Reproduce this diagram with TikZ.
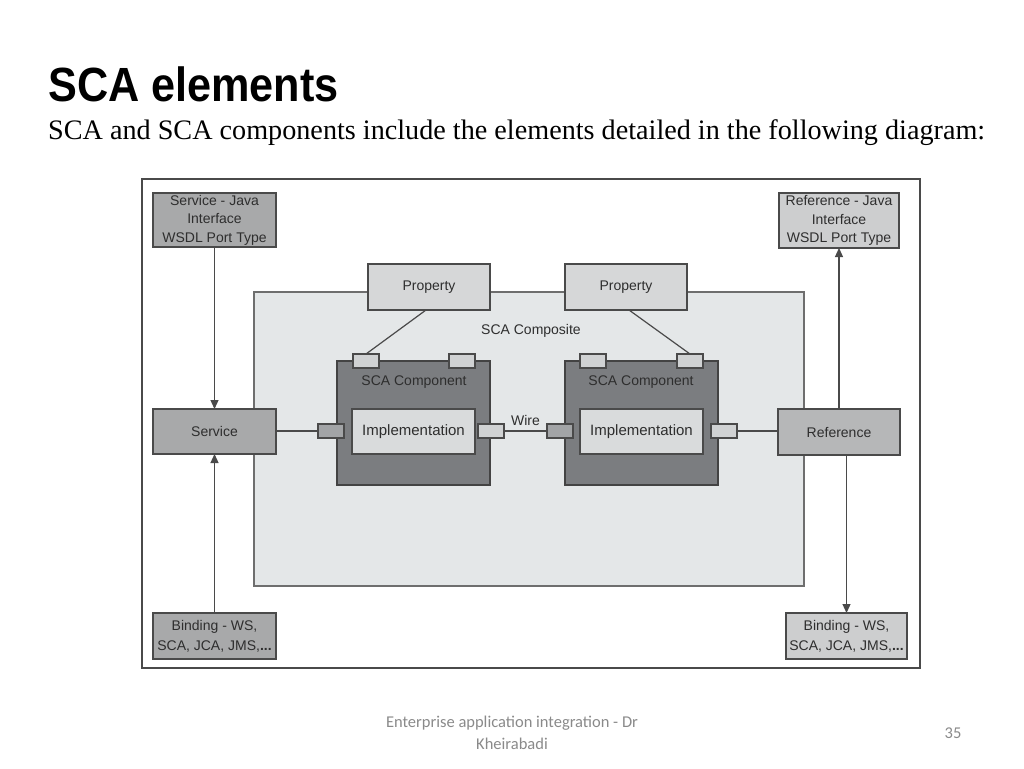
\documentclass[tikz,border=0pt]{standalone}
\usepackage{fontspec}
\setmainfont{Liberation Sans}
\newfontfamily\serifx{Liberation Serif}
\newfontfamily\footf{Carlito}
\usetikzlibrary{arrows.meta,calc}
\definecolor{txt}{HTML}{2E2E2E}
\definecolor{frame}{HTML}{4A4A4A}
\definecolor{compfill}{HTML}{E4E7E8}
\definecolor{compdark}{HTML}{7B7D80}
\definecolor{implfill}{HTML}{D9DBDC}
\definecolor{propfill}{HTML}{D6D7D8}
\definecolor{svcfill}{HTML}{A8A9AA}
\definecolor{reffill}{HTML}{B6B7B8}
\definecolor{rjfill}{HTML}{CDCECF}
\definecolor{portlight}{HTML}{D0D2D3}
\definecolor{portdark}{HTML}{A2A4A6}
\definecolor{footgray}{HTML}{8A8A8A}
\tikzset{
  box/.style={draw=frame, line width=1.2pt, anchor=north west, inner sep=0pt, outer sep=0pt,
    text=txt, font=\fontsize{14}{16}\selectfont, align=center},
  port/.style={draw=frame, line width=1.1pt, anchor=north west, inner sep=0pt, outer sep=0pt,
    minimum width=26pt, minimum height=14pt},
  conn/.style={draw=frame, line width=1.2pt},
  arr/.style={conn, -{Triangle[length=9pt,width=8pt]}},
  lbl/.style={text=txt, font=\fontsize{14}{16}\selectfont, inner sep=0pt}
}
\begin{document}
\begin{tikzpicture}[x=1pt,y=-1pt]
\useasboundingbox (0,0) rectangle (1024,768);
\fill[white] (0,0) rectangle (1024,768);
% title
\node[anchor=west, inner sep=0pt] (title) at (48,84) {\scalebox{0.9}[1]{\fontsize{48}{50}\selectfont\bfseries SCA elements}};
\node[anchor=west, inner sep=0pt] (sub) at (48,133) {\resizebox{937pt}{!}{\serifx\fontsize{29}{32}\selectfont SCA and SCA components include the elements detailed in the following diagram:}};
% outer frame
\node[box, fill=white, minimum width=778pt, minimum height=489pt] (outer) at (142,179) {};
% composite
\node[box, draw=frame!80, fill=compfill, minimum width=550pt, minimum height=294pt] (comp) at (254,292) {};
\node[lbl] (complbl) at (531,331) {SCA Composite};
% properties
\node[box, fill=propfill, minimum width=122pt, minimum height=46pt] (prop1) at (368,264) {Property};
\node[box, fill=propfill, minimum width=122pt, minimum height=46pt] (prop2) at (565,264) {Property};
% components
\node[box, draw=frame!90!black, fill=compdark, minimum width=153pt, minimum height=124pt] (c1) at (337,361) {};
\node[box, draw=frame!90!black, fill=compdark, minimum width=153pt, minimum height=124pt] (c2) at (565,361) {};
\node[lbl] (c1lbl) at (414,382) {SCA Component};
\node[lbl] (c2lbl) at (641,382) {SCA Component};
\node[box, fill=implfill, minimum width=123pt, minimum height=45pt, font=\fontsize{15}{17}\selectfont] (impl1) at (352,409) {Implementation};
\node[box, fill=implfill, minimum width=123pt, minimum height=45pt, font=\fontsize{15}{17}\selectfont] (impl2) at (580,409) {Implementation};
% ports
\node[port, fill=portlight] (c1tl) at (353,354) {};
\node[port, fill=portlight] (c1tr) at (449,354) {};
\node[port, fill=portlight] (c2tl) at (580,354) {};
\node[port, fill=portlight] (c2tr) at (677,354) {};
\node[port, fill=portdark] (c1l) at (318,424) {};
\node[port, fill=portlight] (c1r) at (478,424) {};
\node[port, fill=portdark] (c2l) at (547,424) {};
\node[port, fill=portlight] (c2r) at (711,424) {};
% service / reference
\node[box, fill=svcfill, minimum width=123pt, minimum height=45pt] (svc) at (153,409) {Service};
\node[box, fill=reffill, minimum width=122pt, minimum height=46pt] (ref) at (778,409) {Reference};
\node[box, fill=svcfill, minimum width=123pt, minimum height=54pt, font=\fontsize{14}{18.5}\selectfont] (sj) at (153,193) {Service - Java\\Interface\\WSDL Port Type};
\node[box, fill=rjfill, minimum width=120pt, minimum height=55pt, font=\fontsize{14}{18.5}\selectfont] (rj) at (779,193) {Reference - Java\\Interface\\WSDL Port Type};
\node[box, fill=svcfill, minimum width=123pt, minimum height=46pt, font=\fontsize{14}{20}\selectfont] (bl) at (153,613) {Binding - WS,\\SCA, JCA, JMS,\textbf{...}};
\node[box, fill=rjfill, minimum width=121pt, minimum height=46pt, font=\fontsize{14}{20}\selectfont] (br) at (786,613) {Binding - WS,\\SCA, JCA, JMS,\textbf{...}};
% connectors
\draw[conn] (c1l.west -| svc.east) -- (c1l.west);
\draw[conn] (c1r.east) -- node[lbl, above=5pt] (wire) {Wire} (c2l.west);
\draw[conn] (c2r.east) -- (c2r.east -| ref.west);
\draw[conn] (prop1.south) ++(-3,0) coordinate (p1s) -- (c1tl.north);
\draw[conn] (prop2.south) ++(3,0) coordinate (p2s) -- (c2tr.north);
\draw[arr] (sj.south) -- (svc.north);
\draw[arr] (bl.north) -- (svc.south);
\draw[arr] (ref.north) -- (rj.south);
\draw[arr] (ref.south -| br.north) -- (br.north);
% footer
\node[align=center, text=footgray, font=\footf\fontsize{16.5}{22}\selectfont, inner sep=0pt] (foot) at (512,733) {Enterprise application integration - Dr\\Kheirabadi};
\node[text=footgray, font=\footf\fontsize{16.5}{18}\selectfont, inner sep=0pt] (page) at (953,733) {35};
\end{tikzpicture}
\end{document}
